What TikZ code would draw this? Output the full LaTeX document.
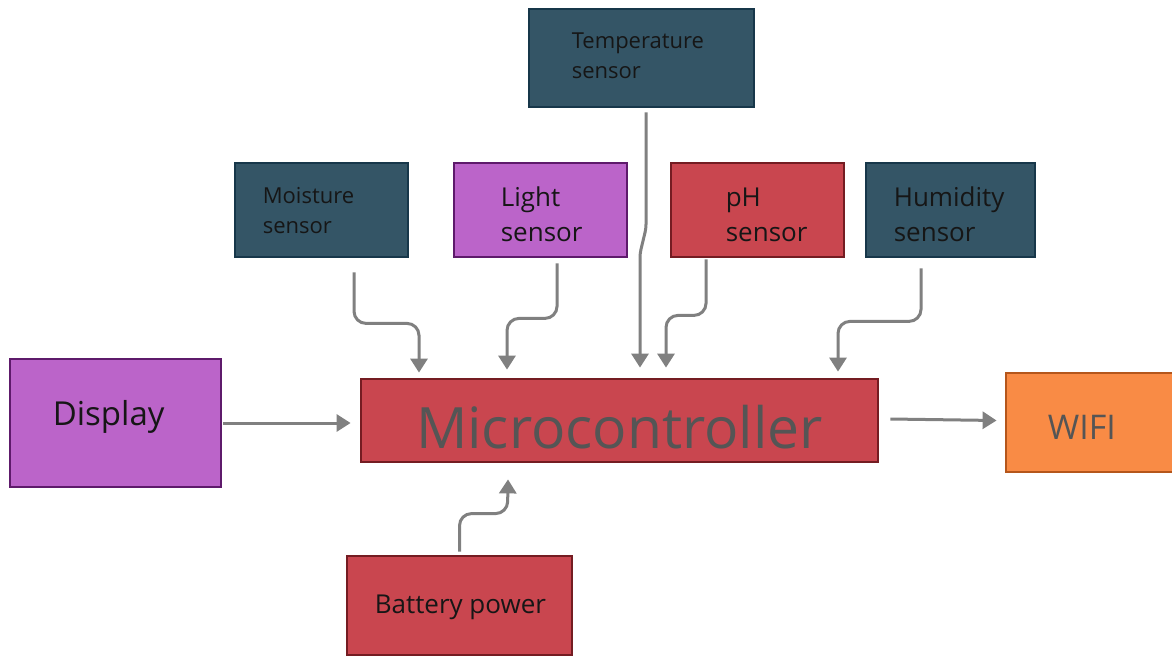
\documentclass[tikz,border=0pt]{standalone}
\usepackage{fontspec}
\setmainfont{Open Sans}
\usetikzlibrary{arrows.meta,calc}
\definecolor{slatef}{RGB}{52,85,102}
\definecolor{slated}{RGB}{23,55,74}
\definecolor{purpf}{RGB}{187,100,201}
\definecolor{purpd}{RGB}{94,26,107}
\definecolor{redf}{RGB}{201,70,79}
\definecolor{redd}{RGB}{116,28,34}
\definecolor{orf}{RGB}{249,139,69}
\definecolor{ord}{RGB}{181,86,27}
\definecolor{arrg}{RGB}{128,128,128}
\definecolor{txtk}{RGB}{22,22,22}
\definecolor{txtg}{RGB}{85,85,85}
\tikzset{
  box/.style={rectangle, draw, line width=2.8pt, inner sep=0pt},
  slatebox/.style={box, fill=slatef, draw=slated},
  purpbox/.style={box, fill=purpf, draw=purpd},
  redbox/.style={box, fill=redf, draw=redd},
  orbox/.style={box, fill=orf, draw=ord},
  txt/.style={anchor=west, inner sep=0pt, align=left, text=txtk},
  smallfont/.style={font=\fontsize{22}{30}\selectfont},
  midfont/.style={font=\fontsize{26}{35}\selectfont},
  conn/.style={draw=arrg, line width=3pt, rounded corners=12pt,
    -{Triangle[width=17pt,length=14pt]}},
}
\begin{document}
\begin{tikzpicture}[x=1pt,y=-1pt]
\useasboundingbox (0,0) rectangle (1172,656);
\clip (0,0) rectangle (1172,656);
\fill[white] (0,0) rectangle (1172,656);

% boxes
\node[slatebox, minimum width=225pt, minimum height=98pt,
  label={[txt, smallfont, xshift=44pt, yshift=2pt]west:Temperature\\sensor}]
  (temp) at (641.5,58) {};
\node[slatebox, minimum width=173pt, minimum height=94pt,
  label={[txt, smallfont, xshift=29pt, yshift=-0.5pt]west:Moisture\\sensor}]
  (moist) at (321.5,210) {};
\node[purpbox, minimum width=173pt, minimum height=94pt,
  label={[txt, midfont, xshift=48pt, yshift=-4.5pt]west:Light\\sensor}]
  (light) at (540.5,210) {};
\node[redbox, minimum width=173pt, minimum height=94pt,
  label={[txt, midfont, xshift=56pt, yshift=-4.5pt]west:pH\\sensor}]
  (ph) at (757.5,210) {};
\node[slatebox, minimum width=169pt, minimum height=94pt,
  label={[txt, midfont, xshift=29pt, yshift=-4.5pt]west:Humidity\\sensor}]
  (hum) at (950.5,210) {};
\node[purpbox, minimum width=211pt, minimum height=128pt,
  label={[txt, font=\fontsize{33}{44}\selectfont, xshift=44pt, yshift=6pt]west:Display}]
  (disp) at (115.5,423) {};
\node[redbox, minimum width=517pt, minimum height=83pt,
  label={[inner sep=0pt, text=txtg, font=\fontsize{57}{68}\selectfont, yshift=-6.5pt]center:Microcontroller}]
  (micro) at (619.5,420.5) {};
\node[orbox, minimum width=184pt, minimum height=99pt,
  label={[txt, text=txtg, font=\fontsize{34}{44}\selectfont, xshift=43pt, yshift=-4.5pt]west:WIFI}]
  (wifi) at (1098,422.5) {};
\node[redbox, minimum width=225pt, minimum height=99pt,
  label={[txt, midfont, xshift=29pt, yshift=-2pt]west:Battery power}]
  (batt) at (459.5,605.5) {};

% connectors
\draw[conn] ([xshift=32.5pt,yshift=-14pt]moist.south) -- ++(0,51) -- ++(65,0)
  -- ([xshift=-200.5pt,yshift=5pt]micro.north);
\draw[conn] ([xshift=16.5pt,yshift=-5pt]light.south) -- ++(0,55) -- ++(-50,0)
  -- ([xshift=-112.5pt,yshift=8pt]micro.north);
\draw[conn, rounded corners=4pt] ([xshift=4.5pt,yshift=-4pt]temp.south) -- ++(0,116) -- ++(-6,25)
  -- ([xshift=20.5pt,yshift=10pt]micro.north);
\draw[conn] ([xshift=-51.5pt,yshift=-1pt]ph.south) -- ++(0,56) -- ++(-40,0)
  -- ([xshift=46.5pt,yshift=10pt]micro.north);
\draw[conn] ([xshift=-29.5pt,yshift=-10pt]hum.south) -- ++(0,53) -- ++(-83,0)
  -- ([xshift=218.5pt,yshift=6pt]micro.north);
\draw[conn] ([xshift=1pt]disp.east) -- ($(disp.east -| micro.west)+(-9,0)$);
\draw[conn] ([xshift=11pt,yshift=1.5pt]micro.east) -- ($(micro.east -| wifi.west)+(-8,0)$);
\draw[conn] ([yshift=3pt]batt.north) -- ++(0,-38) -- ++(48,0)
  -- ([xshift=-111.5pt,yshift=-16pt]micro.south);
\end{tikzpicture}
\end{document}
